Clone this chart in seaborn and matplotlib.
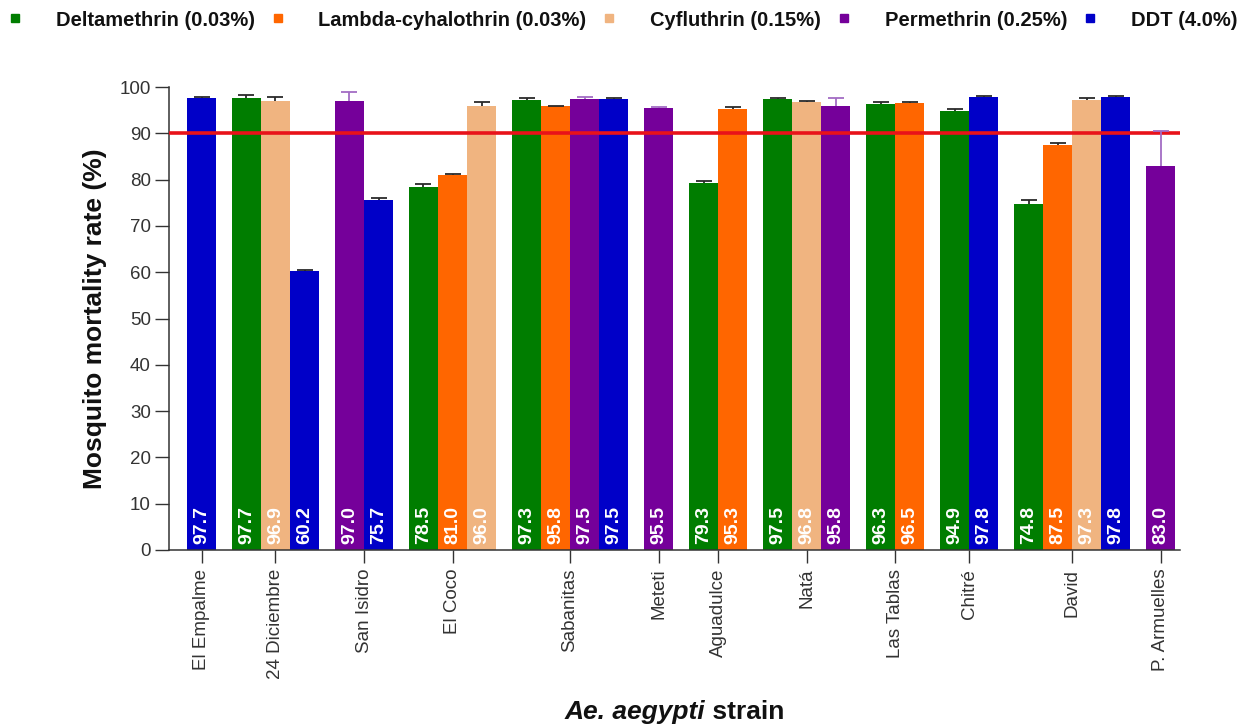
import matplotlib
matplotlib.use("Agg")
import matplotlib.pyplot as plt
from matplotlib.lines import Line2D
from matplotlib.offsetbox import TextArea, HPacker, AnchoredOffsetbox
import pandas as pd
import seaborn as sns

# ---- data -------------------------------------------------------------
strains = ["El Empalme", "24 Diciembre", "San Isidro", "El Coco", "Sabanitas",
           "Meteti", "Aguadulce", "Natá", "Las Tablas", "Chitré", "David",
           "P. Armuelles"]

insecticides = ["Deltamethrin (0.03%)", "Lambda-cyhalothrin (0.03%)",
                "Cyfluthrin (0.15%)", "Permethrin (0.25%)", "DDT (4.0%)"]

# mortality (%) per strain; None = not tested
deltamethrin = [None, 97.7, None, 78.5, 97.3, None, 79.3, 97.5, 96.3, 94.9, 74.8, None]
lambda_cyhal = [None, None, None, 81.0, 95.8, None, 95.3, None, 96.5, None, 87.5, None]
cyfluthrin   = [None, 96.9, None, 96.0, None, None, None, 96.8, None, None, 97.3, None]
permethrin   = [None, None, 97.0, None, 97.5, 95.5, None, 95.8, None, None, None, 83.0]
ddt          = [97.7, 60.2, 75.7, None, 97.5, None, None, None, None, 97.8, 97.8, None]

# standard error of each value
deltamethrin_err = [None, 0.6, None, 0.5, 0.4, None, 0.3, 0.2, 0.4, 0.4, 0.9, None]
lambda_cyhal_err = [None, None, None, 0.3, 0.2, None, 0.4, None, 0.3, None, 0.4, None]
cyfluthrin_err   = [None, 1.0, None, 0.7, None, None, None, 0.2, None, None, 0.3, None]
permethrin_err   = [None, None, 1.9, None, 0.3, 0.2, None, 1.9, None, None, None, 7.5]
ddt_err          = [0.2, 0.3, 0.4, None, 0.2, None, None, None, None, 0.2, 0.3, None]

threshold = 90

series = [deltamethrin, lambda_cyhal, cyfluthrin, permethrin, ddt]
series_err = [deltamethrin_err, lambda_cyhal_err, cyfluthrin_err, permethrin_err, ddt_err]

palette = dict(zip(insecticides, ["#007D00", "#FF6600", "#F0B480", "#75009A", "#0000C8"]))
err_colors = dict(zip(insecticides, ["#2a2a2a", "#2a2a2a", "#2a2a2a", "#A36CC4", "#2a2a2a"]))

# ---- layout: bars of a strain side by side, small gap between strains --
GROUP_GAP = 0.55
rows, centers = [], []
cursor = 0.0
for i, strain in enumerate(strains):
    start = cursor
    for name, vals, errs in zip(insecticides, series, series_err):
        if vals[i] is None:
            continue
        rows.append(dict(strain=strain, insecticide=name, pos=cursor + 0.5,
                         mortality=vals[i], sem=errs[i]))
        cursor += 1
    centers.append((start + cursor) / 2)
    cursor += GROUP_GAP
cursor -= GROUP_GAP
df = pd.DataFrame(rows)

# ---- figure -----------------------------------------------------------
sns.set_style("ticks")
plt.rcParams["font.family"] = ["Liberation Sans", "DejaVu Sans"]
plt.rcParams["axes.edgecolor"] = "#333333"

fig = plt.figure(figsize=(12.43, 7.26), dpi=100)
ax = fig.add_axes([169 / 1243, 1 - 550 / 726, (1180 - 169) / 1243, (550 - 87) / 726])

sns.barplot(data=df, x="pos", y="mortality", hue="insecticide", palette=palette,
            hue_order=insecticides, native_scale=True, dodge=False, width=1,
            saturation=1, errorbar=None, legend=False, linewidth=0, ax=ax, zorder=2)

# one-sided (upper) error bars
for name, sub in df.groupby("insecticide"):
    _, caps, _ = ax.errorbar(sub["pos"], sub["mortality"],
                             yerr=[[0] * len(sub), sub["sem"].tolist()],
                             fmt="none", ecolor=err_colors[name], elinewidth=1.3,
                             capsize=6, capthick=1.3, zorder=4)
    caps[0].set_visible(False)

# 90 % resistance threshold
ax.axhline(threshold, color="#E8121A", linewidth=2.6, zorder=3)

# value labels at the base of each bar
for _, r in df.iterrows():
    ax.annotate(f"{r['mortality']:.1f}", xy=(r["pos"], 0), xytext=(0, 4),
                textcoords="offset points", rotation=90, ha="center", va="bottom",
                color="white", fontsize=14, fontweight="bold", zorder=5)

ax.set_xlim(-0.62, cursor + 0.17)
ax.set_ylim(0, 100)
ax.set_yticks(range(0, 101, 10))
ax.set_xticks(centers)
ax.set_xticklabels(strains, rotation=90)
ax.tick_params(axis="y", length=10, width=1, pad=3, labelsize=13.5, colors="#333333")
ax.tick_params(axis="x", length=9.5, width=1, pad=4, labelsize=13.5, colors="#333333")
ax.set_xlabel("")
ax.set_ylabel("Mosquito mortality rate (%)", fontsize=19, fontweight="bold",
              labelpad=9, color="#111111")
sns.despine(ax=ax)
for s in ("left", "bottom"):
    ax.spines[s].set_linewidth(1.1)

# x-axis title with italic species name
title_parts = HPacker(children=[
    TextArea("Ae. aegypti", textprops=dict(fontsize=19, fontweight="bold",
                                            fontstyle="italic", color="#111111")),
    TextArea(" strain", textprops=dict(fontsize=19, fontweight="bold", color="#111111")),
], pad=0, sep=0, align="baseline")
fig.add_artist(AnchoredOffsetbox(loc="center", child=title_parts, frameon=False,
                                 bbox_to_anchor=(674.5 / 1243, 1 - 712 / 726),
                                 bbox_transform=fig.transFigure, pad=0, borderpad=0))

# legend across the top
handles = [Line2D([], [], marker="s", linestyle="none", markersize=6,
                  markerfacecolor=palette[n], markeredgecolor=palette[n])
           for n in insecticides]
fig.legend(handles, insecticides, loc="center left", ncol=5, frameon=False,
           bbox_to_anchor=(7 / 1243, 1 - 20 / 726), borderaxespad=0, borderpad=0,
           prop=dict(weight="bold", size=14.5), handlelength=0.8,
           handletextpad=1.62, columnspacing=0.74, labelcolor="#111111")

fig.savefig("out.png", dpi=100)
